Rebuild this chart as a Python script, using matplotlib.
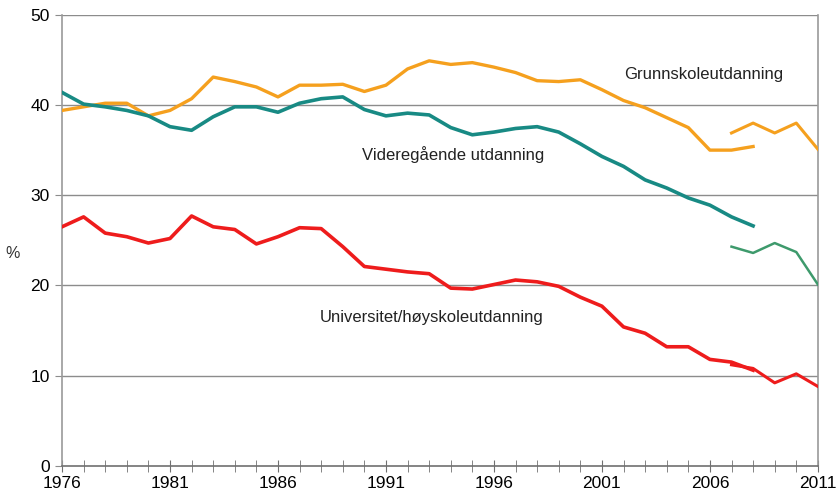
import matplotlib.pyplot as plt
import numpy as np

plt.rcParams['font.family'] = ['Liberation Sans', 'DejaVu Sans']

years = np.arange(1976, 2009)
years_new = np.arange(2007, 2012)

grunnskole = [39.4, 39.8, 40.2, 40.2, 38.8, 39.4, 40.7, 43.1, 42.6, 42.0,
              40.9, 42.2, 42.2, 42.3, 41.5, 42.2, 44.0, 44.9, 44.5, 44.7,
              44.2, 43.6, 42.7, 42.6, 42.8, 41.7, 40.5, 39.7, 38.6, 37.5,
              35.0, 35.0, 35.4]
grunnskole_new = [36.9, 38.0, 36.9, 38.0, 35.1]

videregaende = [41.4, 40.1, 39.8, 39.4, 38.8, 37.6, 37.2, 38.7, 39.8, 39.8,
                39.2, 40.2, 40.7, 40.9, 39.5, 38.8, 39.1, 38.9, 37.5, 36.7,
                37.0, 37.4, 37.6, 37.0, 35.7, 34.3, 33.2, 31.7, 30.8, 29.7,
                28.9, 27.6, 26.6]
videregaende_new = [24.3, 23.6, 24.7, 23.7, 20.1]

universitet = [26.5, 27.6, 25.8, 25.4, 24.7, 25.2, 27.7, 26.5, 26.2, 24.6,
               25.4, 26.4, 26.3, 24.3, 22.1, 21.8, 21.5, 21.3, 19.7, 19.6,
               20.1, 20.6, 20.4, 19.9, 18.7, 17.7, 15.4, 14.7, 13.2, 13.2,
               11.8, 11.5, 10.6]
universitet_new = [11.2, 10.8, 9.2, 10.2, 8.8]

orange = "#F5A01E"
teal = "#188A84"
green = "#3E9A6C"
red = "#EE1C1C"

fig = plt.figure(figsize=(8.38, 4.94), dpi=100)
ax = fig.add_axes([0.074, 0.057, 0.902, 0.913])

for y in [10, 20, 30, 40, 50]:
    ax.axhline(y, color="#8c8c8c", lw=1, zorder=1)

ax.plot(years, grunnskole, color=orange, lw=2.4, zorder=3)
ax.plot(years_new, grunnskole_new, color=orange, lw=2.2, zorder=3)
ax.plot(years, videregaende, color=teal, lw=2.6, zorder=3)
ax.plot(years_new, videregaende_new, color=green, lw=1.8, zorder=3)
ax.plot(years, universitet, color=red, lw=2.6, zorder=3)
ax.plot(years_new, universitet_new, color=red, lw=2.2, zorder=3)

ax.set_xlim(1976, 2011)
ax.set_ylim(0, 50)

ax.set_xticks([1976, 1981, 1986, 1991, 1996, 2001, 2006, 2011])
ax.set_xticks(np.arange(1976, 2012), minor=True)
ax.set_yticks([0, 10, 20, 30, 40, 50])
ax.tick_params(axis="x", which="both", direction="inout", length=8,
               color="#707070", labelsize=12.5, pad=3)
ax.tick_params(axis="y", direction="out", length=5, color="#8c8c8c",
               labelsize=12.5, pad=4)

for side in ["left", "right"]:
    ax.spines[side].set_color("#9a9a9a")
    ax.spines[side].set_linewidth(1.2)
ax.spines["top"].set_visible(False)
ax.spines["bottom"].set_color("#707070")
ax.spines["bottom"].set_linewidth(1.2)

ax.text(-0.065, 0.47, "%", transform=ax.transAxes, fontsize=11.5,
        ha="center", va="center", color="#333333")

ax.text(2005.7, 43.4, "Grunnskoleutdanning", fontsize=12, ha="center",
        va="center", color="#222222")
ax.text(1994.1, 34.5, "Videregående utdanning", fontsize=12, ha="center",
        va="center", color="#222222")
ax.text(1993.1, 16.5, "Universitet/høyskoleutdanning", fontsize=12,
        ha="center", va="center", color="#222222")

fig.savefig("out.png", dpi=100)
